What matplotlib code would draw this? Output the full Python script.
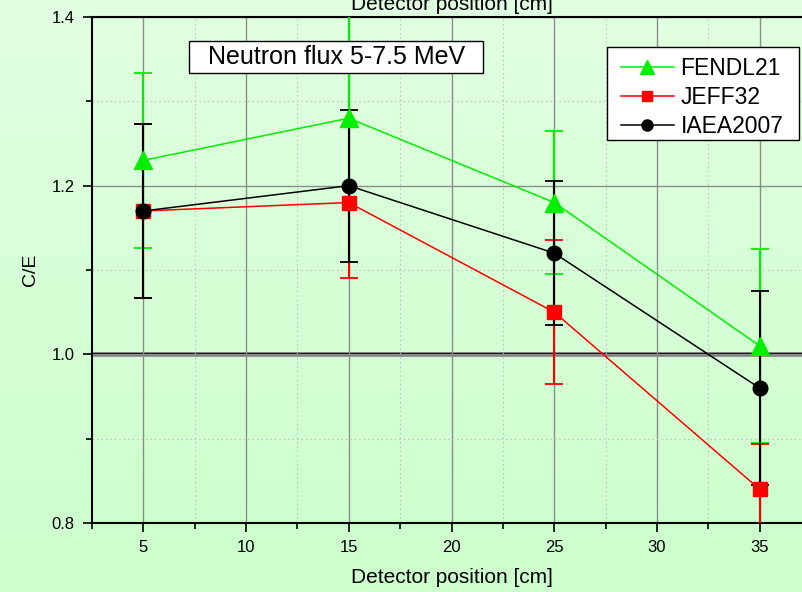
import numpy as np
import matplotlib
matplotlib.use("Agg")
import matplotlib.pyplot as plt
from matplotlib.colors import LinearSegmentedColormap
from matplotlib.lines import Line2D
from matplotlib.patches import Rectangle
from matplotlib.ticker import MultipleLocator

plt.rcParams['font.family'] = ['Liberation Sans', 'DejaVu Sans']

# C/E ratios at each detector position, with uncertainties
positions = [5, 15, 25, 35]
fendl21 = [1.23, 1.28, 1.18, 1.01]
fendl21_err = [0.104, 0.17, 0.085, 0.115]
jeff32 = [1.17, 1.18, 1.05, 0.84]
jeff32_err = [0.103, 0.09, 0.085, 0.054]
iaea2007 = [1.17, 1.20, 1.12, 0.96]
iaea2007_err = [0.103, 0.09, 0.085, 0.115]

fig = plt.figure(figsize=(8.02, 5.92), dpi=100)

# light green vertical gradient behind everything
bg = fig.add_axes([0, 0, 1, 1], zorder=-10)
cmap = LinearSegmentedColormap.from_list("bg", ["#e1ffe1", "#ccffcc"])
bg.imshow(np.linspace(0, 1, 256).reshape(-1, 1), aspect="auto", cmap=cmap,
          extent=[0, 1, 0, 1])
bg.axis("off")

ax = fig.add_axes([92 / 802, 1 - 523 / 592, 719 / 802, 506 / 592])
ax.set_facecolor("none")
ax.set_xlim(2.5, 37.5)
ax.set_ylim(0.8, 1.4)

ax.xaxis.set_major_locator(MultipleLocator(5))
ax.xaxis.set_minor_locator(MultipleLocator(2.5))
ax.yaxis.set_minor_locator(MultipleLocator(0.1))
ax.set_yticks([0.8, 1.0, 1.2, 1.4])
ax.set_yticklabels(["0.8", "1.0", "1.2", "1.4"])

ax.grid(which="major", color="#8c8c8c", linewidth=1.0, zorder=0)
ax.grid(which="minor", color="#c4c4c4", linewidth=0.8, linestyle=(0, (1.5, 2.5)), zorder=0)
ax.axhline(1.0, color="#909090", linewidth=3.5, zorder=1)
ax.axhline(1.0, color="black", linewidth=1.6, zorder=1)

ax.tick_params(which="both", direction="out", labelsize=12, width=1.2)
ax.tick_params(which="major", length=6.5, pad=6)
ax.tick_params(which="minor", length=4)
for side in ["left", "bottom", "top", "right"]:
    ax.spines[side].set_linewidth(1.5)

series = [
    ("FENDL21", fendl21, fendl21_err, "#00f000", "^", 12.5, 10),
    ("JEFF32", jeff32, jeff32_err, "#ff0000", "s", 9.5, 7.5),
    ("IAEA2007", iaea2007, iaea2007_err, "black", "o", 10.5, 8),
]
handles = []
for name, vals, errs, col, mk, ms, leg_ms in series:
    ax.errorbar(positions, vals, yerr=errs, color=col, ecolor=col, elinewidth=1.5,
                capsize=6.5, capthick=1.3, marker=mk, markersize=ms, linewidth=1.1,
                zorder=3)
    handles.append(Line2D([], [], color=col, marker=mk, markersize=leg_ms,
                          linewidth=1.1, label=name))

ax.set_ylabel("C/E", fontsize=14, labelpad=9)
ax.set_xlabel("Detector position [cm]", fontsize=15, labelpad=9)
fig.text(452 / 802, 1 - 10 / 592, "Detector position [cm]", fontsize=15,
         ha="center", va="baseline")

# annotation box
fig.patches.append(Rectangle((189 / 802, 1 - 73 / 592), 294 / 802, 32 / 592,
                             transform=fig.transFigure, facecolor="white",
                             edgecolor="black", linewidth=1.0, zorder=5))
fig.text(337 / 802, 1 - 57 / 592, "Neutron flux 5-7.5 MeV",
         fontsize=18, ha="center", va="center", zorder=6)

# legend frame drawn separately so its padding can be set per side
fig.patches.append(Rectangle((607 / 802, 1 - 140 / 592), 192 / 802, 93 / 592,
                             transform=fig.transFigure, facecolor="white",
                             edgecolor="black", linewidth=1.0, zorder=5))
leg = fig.legend(handles=handles, loc="upper left", bbox_to_anchor=(621 / 802, 1 - 57 / 592),
                 bbox_transform=fig.transFigure, fontsize=16.5, frameon=False,
                 handlelength=2.3, handletextpad=0.3, borderpad=0,
                 labelspacing=0.27, borderaxespad=0)
leg.set_zorder(6)

fig.savefig("out.png", dpi=100)
